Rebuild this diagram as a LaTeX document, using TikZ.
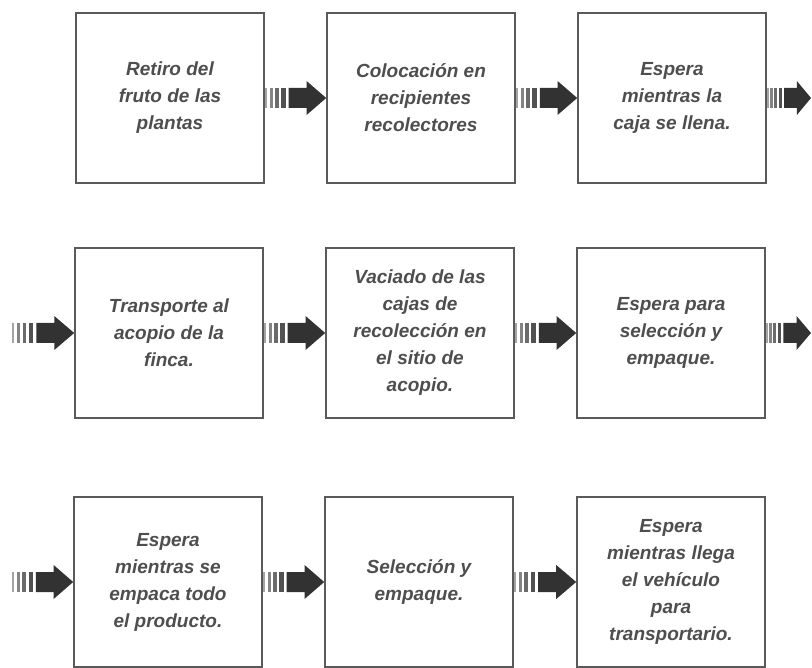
\documentclass[tikz,border=0pt]{standalone}
\usepackage{fontspec}
\setmainfont{Liberation Sans}
\usepackage{xcolor}
\usepackage{tikz}
\usetikzlibrary{calc}
\definecolor{boxgray}{RGB}{90,90,90}
\definecolor{txtgray}{RGB}{78,78,78}
\definecolor{arrgray}{RGB}{50,50,50}

\tikzset{
  etapa/.style={draw=boxgray, line width=1.6pt, minimum width=188pt, minimum height=170pt,
    inner sep=0pt, align=center, text=txtgray,
    font=\fontsize{19}{27}\selectfont\bfseries\itshape},
}

% striped block arrow from #1 to #2
\newcommand{\flecha}[2]{%
  \path (#1) coordinate (fa-s) (#2) coordinate (fa-e);
  \foreach \p/\q/\s in {0/.04/45,.08/.13/60,.17/.23/72,.27/.34/85}
    \fill[arrgray!\s] ($(fa-s)!\p!(fa-e)+(0,-10)$) rectangle ($(fa-s)!\q!(fa-e)+(0,10)$);
  \fill[arrgray] ($(fa-s)!.39!(fa-e)+(0,-10)$) -- ($(fa-s)!.68!(fa-e)+(0,-10)$)
    -- ($(fa-s)!.68!(fa-e)+(0,-17)$) -- (fa-e) -- ($(fa-s)!.68!(fa-e)+(0,17)$)
    -- ($(fa-s)!.68!(fa-e)+(0,10)$) -- ($(fa-s)!.39!(fa-e)+(0,10)$) -- cycle;
}

\begin{document}
\begin{tikzpicture}[x=1pt, y=-1pt]
    \useasboundingbox[fill=white] (0,0) rectangle (812,668);

    % First row
    \node[etapa] (retiro) at (170,98) {Retiro del\\fruto de las\\plantas};
    \node[etapa] (colocacion) at (421,98) {Colocación en\\recipientes\\recolectores};
    \node[etapa] (llenado) at (672,98) {Espera\\mientras la\\caja se llena.};

    % Second row
    \node[etapa] (transporte) at (169,333) {Transporte al\\acopio de la\\finca.};
    \node[etapa] (vaciado) at (420,333) {Vaciado de las\\cajas de\\recolección en\\el sitio de\\acopio.};
    \node[etapa] (esperasel) at (671,333) {Espera para\\selección y\\empaque.};

    % Third row
    \node[etapa] (esperaemp) at (168,582) {Espera\\mientras se\\empaca todo\\el producto.};
    \node[etapa] (seleccion) at (419,582) {Selección y\\empaque.};
    \node[etapa] (vehiculo) at (671,582) {Espera\\mientras llega\\el vehículo\\para\\transportario.};

    % Free ends at the margins
    \coordinate (sal1) at (811,98);
    \coordinate (ent2) at (12,333);
    \coordinate (sal2) at (811,333);
    \coordinate (ent3) at (12,582);

    % Arrows
    \flecha{retiro.east}{colocacion.west}
    \flecha{colocacion.east}{llenado.west}
    \flecha{llenado.east}{sal1}
    \flecha{ent2}{transporte.west}
    \flecha{transporte.east}{vaciado.west}
    \flecha{vaciado.east}{esperasel.west}
    \flecha{esperasel.east}{sal2}
    \flecha{ent3}{esperaemp.west}
    \flecha{esperaemp.east}{seleccion.west}
    \flecha{seleccion.east}{vehiculo.west}
\end{tikzpicture}
\end{document}
